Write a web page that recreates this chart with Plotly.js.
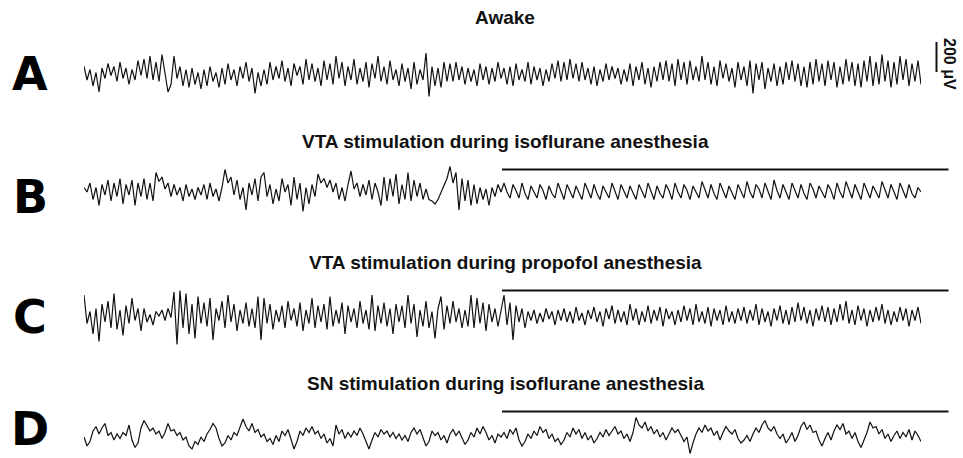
<!DOCTYPE html>
<html><head><meta charset="utf-8">
<script src="https://cdn.plot.ly/plotly-3.0.1.min.js"></script>
<style>html,body{margin:0;padding:0;background:#fff}#chart{width:963px;height:458px}</style>
</head><body><div id="chart"></div>
<script>
// EEG traces (µV), equal sampling
const traceA = [
 50,-40,30,-80,10,-120,40,-30,70,-10,50,-50,80,-30,40,-70,30,-40,90,-10,
 100,-30,120,-40,80,-50,130,-10,-120,-70,120,-30,50,-80,30,-90,40,-70,10,-100,
 30,-80,50,-50,10,-90,40,-70,70,-40,30,-80,50,-30,80,-50,40,-130,10,-80,
 30,-70,80,-40,50,-30,90,-50,40,-80,70,-10,50,-70,100,-40,70,-50,40,-80,
 90,-40,70,-70,120,-30,80,-80,50,-40,100,-70,40,-50,80,-90,70,-30,120,-50,
 50,-70,90,-40,30,-80,70,-50,40,-100,80,-70,30,-40,140,-150,50,-80,40,-90,
 80,-50,70,-50,80,-40,50,-70,40,-50,30,-80,70,-40,50,-70,40,-50,80,-30,
 40,-70,50,-80,70,-40,30,-50,80,-70,50,-40,40,-80,30,-50,70,-30,90,-50,
 80,-40,100,-30,70,-50,80,-40,40,-70,50,-80,30,-50,70,-40,50,-30,40,-70,
 30,-50,70,-80,50,-40,80,-70,40,-90,50,-50,80,-40,90,-50,70,-80,100,-40,
 80,-70,90,-40,50,-50,120,-40,80,-70,50,-80,90,-30,70,-50,40,-90,80,-40,
 50,-80,90,-130,70,-40,80,-100,40,-50,70,-80,50,-70,80,-40,90,-50,70,-80,
 50,-90,80,-70,100,-50,70,-80,90,-40,80,-90,50,-70,100,-50,80,-80,70,-90,
 90,-50,120,-80,80,-70,130,-50,90,-90,80,-70,120,-40,100,-80,70,-50,90,-70
];
const traceB = [
 30,0,60,-50,30,-90,50,-20,80,-60,
 60,-30,90,-80,50,-20,80,-90,60,-30,
 90,-50,60,-60,130,70,100,20,60,-30,
 50,-20,30,-60,50,-30,20,-50,30,-20,
 50,-50,60,-30,20,-60,30,150,60,100,
 -20,80,-50,30,-120,60,-20,90,-60,100,
 130,-30,50,-80,20,-60,90,0,50,-90,
 100,-50,60,-130,30,-80,50,-30,120,60,
 90,30,80,0,60,-50,30,-60,50,140,
 20,60,-30,50,-20,80,-50,60,0,-90,
 100,-60,90,-30,120,-80,50,-50,130,-60,
 80,-30,60,-50,20,-50,-60,-80,-50,0,
 50,90,170,60,130,-120,90,-60,80,-90,
 50,-80,30,-50,20,-90,30,-30,50,0,
 60,0,-40,50,10,-40,60,-10,-50,40,
 0,-40,50,10,-50,40,-10,-40,60,0,
 -50,50,10,-40,40,0,-50,60,10,-40,
 50,-10,-50,40,0,-40,60,10,-50,50,
 0,-40,40,-10,-50,50,10,-40,60,0,
 -50,40,-10,-40,50,10,-50,60,0,-40,
 50,10,-50,40,0,-40,70,10,-40,50,
 -10,-50,60,10,-40,40,0,-50,50,10,
 -40,70,0,-40,50,20,-40,60,0,-50,
 80,10,-40,50,0,-50,60,10,-40,50,
 -10,-50,60,20,-40,40,0,-40,50,10,
 -50,60,0,-40,70,10,-40,50,0,-50,
 60,10,-40,40,0,-40,70,20,-40,50,
 0,-50,60,10,-40,50,-10,-40,30,0
];
const traceC = [
 140,-50,30,-120,50,-170,80,-40,100,-80,
 150,-90,40,-130,70,-50,120,-30,50,-100,
 50,-40,10,-60,30,0,40,-30,50,-10,
 160,-190,170,-80,150,-120,80,-150,130,-50,
 90,-70,120,-160,50,-30,100,-80,140,-40,
 80,-100,40,-50,90,-70,50,-80,130,-160,
 120,-50,80,-90,40,-40,70,-80,100,-30,
 50,-70,90,-100,40,-50,120,-80,70,-40,
 80,-90,130,-70,40,-50,90,-120,70,-40,
 50,-80,100,-50,40,-90,140,-100,70,-50,
 90,-70,50,-120,80,-40,70,-80,140,-50,
 80,-140,40,-70,100,-80,30,-150,50,130,
 -90,70,-50,100,-40,50,-80,40,-70,140,
 -80,120,-50,90,-100,80,-40,50,-70,40,
 140,-60,90,-160,70,-40,50,-80,30,-30,
 40,-50,20,-40,50,-20,30,-60,40,-30,
 50,-40,30,-50,60,-30,20,-60,40,-20,
 60,-40,30,-70,50,-20,70,-50,40,-40,
 30,-60,80,-30,50,-60,30,-40,70,-50,
 40,-30,60,-70,50,-20,30,-60,40,-40,
 70,-30,50,-60,80,-40,30,-50,60,-70,
 50,-30,40,-60,70,-40,30,-50,50,-30,
 60,-50,40,-30,80,-60,50,-40,30,-70,
 50,-30,70,-50,40,-60,60,-40,90,-30,
 60,-50,40,-70,50,-30,70,-40,60,-60,
 50,-40,80,-30,100,-50,40,-60,70,-30,
 50,-70,40,-40,60,-30,80,-50,40,-60,
 30,-40,60,-30,50,-70,40,-30,60,-50
];
const traceD = [
 0,-60,-30,40,70,20,60,90,10,30,
 -20,20,-10,30,10,80,-20,-70,-40,60,
 110,70,40,60,20,40,-10,30,90,40,
 50,10,30,-20,0,-60,-80,-30,-50,0,
 -30,20,50,90,60,-10,-60,-40,10,-20,
 30,10,60,120,70,40,90,30,50,0,
 20,-30,-10,-50,10,-30,40,10,50,-20,
 -80,-30,40,10,60,30,70,20,40,-10,
 20,-40,-10,-60,80,20,50,-10,30,0,
 40,10,60,20,-30,-80,-20,30,0,50,
 20,40,0,30,-10,20,-20,10,-30,30,
 60,20,50,-10,-60,-30,40,10,30,-20,
 10,-40,20,50,10,40,-10,-50,-20,30,
 0,60,20,70,30,-20,10,-40,20,0,
 30,-10,50,20,60,-20,-60,-30,20,-10,
 40,10,70,30,50,-10,20,-30,-10,-50,
 -20,30,0,60,20,50,-10,30,-20,10,
 -40,-10,30,0,50,10,40,70,20,40,
 -10,20,-30,30,130,80,60,100,40,70,
 20,50,0,30,-20,20,60,30,50,10,
 -30,0,-110,-40,20,60,30,80,40,60,
 10,40,-20,30,70,40,20,50,-10,-40,
 -20,10,-30,20,60,30,80,110,60,40,
 70,20,-10,20,-40,-10,30,-30,10,70,
 100,50,80,30,40,-20,-60,-10,30,-20,
 40,80,50,90,20,40,-10,30,-30,-70,
 -20,30,100,60,70,20,50,-10,20,-30,
 10,40,-10,30,0,50,-20,40,10,-30
];
const titles = ["Awake","VTA stimulation during isoflurane anesthesia","VTA stimulation during propofol anesthesia","SN stimulation during isoflurane anesthesia"];
const panelLetters = ["A","B","C","D"];
const scaleLabel = "200 \u03bcV";

const series = [traceA, traceB, traceC, traceD];
const t = traceA.map((_, i) => i);
const W = 963, H = 458;
const px = v => v / W, py = v => 1 - v / H;

const axisOff = {visible:false, showgrid:false, zeroline:false, fixedrange:true};
// vertical layout: centre (px) and half-range (µV) per panel; 0.15 px per µV
const centres = [74, 192, 316, 437];
const halfR = [200, 200, 200, 140];
const layout = {
  width: W, height: H, margin:{l:0,r:0,t:0,b:0},
  paper_bgcolor:'#fff', plot_bgcolor:'rgba(0,0,0,0)', showlegend:false,
  xaxis: Object.assign({domain:[px(84), px(921)], range:[0, t.length-1], anchor:'y4'}, axisOff),
  shapes: [], annotations: []
};
series.forEach((s, k) => {
  const key = k === 0 ? 'yaxis' : 'yaxis' + (k+1);
  const hpx = halfR[k] * 0.15;
  layout[key] = Object.assign({domain:[Math.max(0, py(centres[k] + hpx)), py(centres[k] - hpx)], range:[-halfR[k], halfR[k]]}, axisOff);
});
const titleY = [17, 142, 262, 383];
const letterY = [74, 197, 317, 437];
const letterFont = {family:'DejaVu Sans, sans-serif', size:46, color:'#000', weight:'bold'};
titles.forEach((tt, k) => {
  layout.annotations.push({text: tt, xref:'paper', yref:'paper', x: px(505), y: py(titleY[k]), xanchor:'center', yanchor:'middle', showarrow:false,
    font:{family:'Liberation Sans, Arial, sans-serif', size:19, color:'#111', weight:'bold'}});
  const last = k === 3;
  layout.annotations.push({text: panelLetters[k], xref:'paper', yref:'paper', x: px(30),
    y: last ? py(457) : py(letterY[k]), xanchor:'center', yanchor: last ? 'bottom' : 'middle', borderpad:0, showarrow:false,
    font: letterFont});
});
// stimulation bars
[169.5, 290.5, 411.5].forEach(yy => layout.shapes.push({type:'line', xref:'paper', yref:'paper', x0:px(502), x1:px(948.5), y0:py(yy), y1:py(yy), line:{color:'#111', width:2}}));
// scale bar 200 µV
layout.shapes.push({type:'line', xref:'paper', yref:'paper', x0:px(936.5), x1:px(936.5), y0:py(42), y1:py(72), line:{color:'#111', width:2}});
layout.annotations.push({text: scaleLabel, xref:'paper', yref:'paper', x: px(950), y: py(64), xanchor:'center', yanchor:'middle', textangle:90, showarrow:false,
  font:{family:'Liberation Sans, Arial, sans-serif', size:16, color:'#111', weight:'bold'}});

const data = series.map((s, k) => ({x: t, y: s, type:'scatter', mode:'lines', yaxis: k === 0 ? 'y' : 'y' + (k+1),
  line:{color:'#111', width:1.2}, hoverinfo:'skip'}));
Plotly.newPlot('chart', data, layout, {staticPlot:true, displayModeBar:false});
</script></body></html>
